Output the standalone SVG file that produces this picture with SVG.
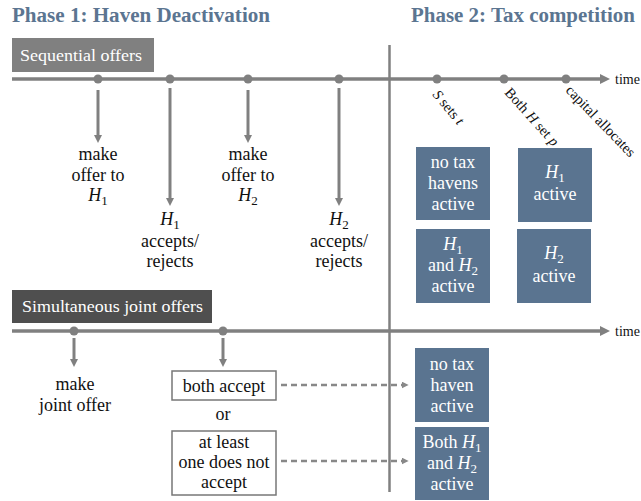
<svg xmlns="http://www.w3.org/2000/svg" width="641" height="501" viewBox="0 0 641 501">
<style>
text{font-family:"Liberation Serif","DejaVu Serif",serif;}
.title{font-size:20.5px;font-weight:bold;fill:#5b7591;}
.lbl{font-size:18px;fill:#111;text-anchor:middle;}
.wt{font-size:18px;fill:#fff;text-anchor:middle;}
.hdr{font-size:17px;fill:#fff;}
.rot{font-size:14.5px;fill:#111;}
.tm{font-size:14px;fill:#111;}
.it{font-style:italic;}
.sub{font-size:13px;}
.axis{stroke:#808080;stroke-width:3.5;fill:none;}
.arr{stroke:#808080;stroke-width:3;fill:none;}
.dash{stroke:#888;stroke-width:2.5;stroke-dasharray:6 4;fill:none;}
.dot{fill:#808080;}
.bbox{fill:#5a7490;}
.wbox{fill:#fff;stroke:#777;stroke-width:1.5;}
</style>
<defs>
<marker id="ah" viewBox="0 0 10 10" refX="2" refY="5" markerWidth="8" markerHeight="8" markerUnits="userSpaceOnUse" orient="auto"><path d="M0,0 L10,5 L0,10 z" fill="#808080"/></marker>
<marker id="ahs" viewBox="0 0 10 10" refX="2" refY="5" markerWidth="7" markerHeight="7" markerUnits="userSpaceOnUse" orient="auto"><path d="M0,0 L10,5 L0,10 z" fill="#888"/></marker>
<marker id="ahl" viewBox="0 0 10 10" refX="2" refY="5" markerWidth="10" markerHeight="10" markerUnits="userSpaceOnUse" orient="auto"><path d="M0,0 L10,5 L0,10 z" fill="#808080"/></marker>
</defs>

<g id="titles">
<text class="title" x="12" y="22" textLength="258" lengthAdjust="spacingAndGlyphs">Phase 1: Haven Deactivation</text>
<text class="title" x="411" y="22" textLength="224" lengthAdjust="spacingAndGlyphs">Phase 2: Tax competition</text>
</g>

<g id="connectors">
<line class="axis" x1="12" y1="79" x2="602" y2="79" marker-end="url(#ahl)"/>
<line class="axis" x1="12" y1="331" x2="602" y2="331" marker-end="url(#ahl)"/>
<line x1="389.5" y1="45" x2="389.5" y2="492" stroke="#808080" stroke-width="2.5"/>
<line class="arr" x1="98" y1="90" x2="98" y2="136.6" marker-end="url(#ah)"/>
<line class="arr" x1="170" y1="88" x2="170" y2="199.6" marker-end="url(#ah)"/>
<line class="arr" x1="248" y1="90" x2="248" y2="136.6" marker-end="url(#ah)"/>
<line class="arr" x1="339" y1="88" x2="339" y2="199.6" marker-end="url(#ah)"/>
<line class="arr" x1="74" y1="338" x2="74" y2="360.6" marker-end="url(#ah)"/>
<line class="arr" x1="223" y1="338" x2="223" y2="360.6" marker-end="url(#ah)"/>
<line class="dash" x1="281" y1="385" x2="403" y2="385" marker-end="url(#ahs)"/>
<line class="dash" x1="281" y1="461" x2="403" y2="461" marker-end="url(#ahs)"/>
<circle class="dot" cx="98" cy="79" r="4.5"/>
<circle class="dot" cx="170" cy="79" r="4.5"/>
<circle class="dot" cx="248" cy="79" r="4.5"/>
<circle class="dot" cx="339" cy="79" r="4.5"/>
<circle class="dot" cx="437" cy="79" r="4.5"/>
<circle class="dot" cx="504" cy="79" r="4.5"/>
<circle class="dot" cx="566" cy="79" r="4.5"/>
<circle class="dot" cx="74" cy="331" r="4.5"/>
<circle class="dot" cx="223" cy="331" r="4.5"/>
<text class="tm" x="615" y="84">time</text>
<text class="tm" x="615" y="336">time</text>
</g>

<g id="seq-header">
<rect x="12" y="38" width="142" height="34" fill="#808080"/>
<text class="hdr" x="20" y="61" textLength="122" lengthAdjust="spacingAndGlyphs">Sequential offers</text>
</g>

<g id="sim-header">
<rect x="12" y="290" width="200" height="33" fill="#4f4f4f"/>
<text class="hdr" x="22" y="312" textLength="181" lengthAdjust="spacingAndGlyphs">Simultaneous joint offers</text>
</g>

<g id="offer-h1">
<text class="lbl" x="98" y="160">make</text>
<text class="lbl" x="98" y="181">offer to</text>
<text class="lbl" x="98" y="201"><tspan class="it">H</tspan><tspan class="sub" dy="4">1</tspan></text>
</g>
<g id="h1-responds">
<text class="lbl" x="170" y="225"><tspan class="it">H</tspan><tspan class="sub" dy="4">1</tspan></text>
<text class="lbl" x="170" y="247">accepts/</text>
<text class="lbl" x="170" y="267">rejects</text>
</g>
<g id="offer-h2">
<text class="lbl" x="248" y="160">make</text>
<text class="lbl" x="248" y="181">offer to</text>
<text class="lbl" x="248" y="201"><tspan class="it">H</tspan><tspan class="sub" dy="4">2</tspan></text>
</g>
<g id="h2-responds">
<text class="lbl" x="339" y="225"><tspan class="it">H</tspan><tspan class="sub" dy="4">2</tspan></text>
<text class="lbl" x="339" y="247">accepts/</text>
<text class="lbl" x="339" y="267">rejects</text>
</g>

<g id="box-none">
<rect class="bbox" x="416" y="147" width="74" height="73"/>
<text class="wt" x="453" y="168">no tax</text>
<text class="wt" x="453" y="189">havens</text>
<text class="wt" x="453" y="210">active</text>
</g>
<g id="box-h1">
<rect class="bbox" x="518" y="148" width="74" height="74"/>
<text class="wt" x="555" y="178"><tspan class="it">H</tspan><tspan class="sub" dy="4">1</tspan></text>
<text class="wt" x="555" y="200">active</text>
</g>
<g id="box-both">
<rect class="bbox" x="416" y="229" width="74" height="74"/>
<text class="wt" x="453" y="250"><tspan class="it">H</tspan><tspan class="sub" dy="4">1</tspan></text>
<text class="wt" x="453" y="271">and <tspan class="it">H</tspan><tspan class="sub" dy="4">2</tspan></text>
<text class="wt" x="453" y="292">active</text>
</g>
<g id="box-h2">
<rect class="bbox" x="517" y="229" width="74" height="74"/>
<text class="wt" x="554" y="259"><tspan class="it">H</tspan><tspan class="sub" dy="4">2</tspan></text>
<text class="wt" x="554" y="282">active</text>
</g>

<g id="phase2-steps">
<text class="rot" transform="translate(432,95) rotate(50)"><tspan class="it">S</tspan> sets <tspan class="it">t</tspan></text>
<text class="rot" transform="translate(504,93) rotate(48)">Both <tspan class="it">H</tspan> set <tspan class="it">p</tspan></text>
<text class="rot" transform="translate(565,91) rotate(46)">capital allocates</text>
</g>

<g id="joint-offer">
<text class="lbl" x="75" y="390">make</text>
<text class="lbl" x="75" y="411">joint offer</text>
</g>
<g id="both-accept">
<rect class="wbox" x="172" y="371" width="104" height="29"/>
<text class="lbl" x="224" y="392">both accept</text>
</g>
<g id="or-label">
<text class="lbl" x="223" y="420">or</text>
</g>
<g id="not-accept">
<rect class="wbox" x="172" y="431" width="104" height="64"/>
<text class="lbl" x="224" y="448">at least</text>
<text class="lbl" x="224" y="468">one does not</text>
<text class="lbl" x="224" y="488">accept</text>
</g>
<g id="box-no-haven">
<rect class="bbox" x="415" y="348" width="74" height="74"/>
<text class="wt" x="452" y="370">no tax</text>
<text class="wt" x="452" y="391">haven</text>
<text class="wt" x="452" y="412">active</text>
</g>
<g id="box-both-active">
<rect class="bbox" x="415" y="427" width="74" height="73"/>
<text class="wt" x="452" y="448">Both <tspan class="it">H</tspan><tspan class="sub" dy="4">1</tspan></text>
<text class="wt" x="452" y="469">and <tspan class="it">H</tspan><tspan class="sub" dy="4">2</tspan></text>
<text class="wt" x="452" y="490">active</text>
</g>
</svg>
